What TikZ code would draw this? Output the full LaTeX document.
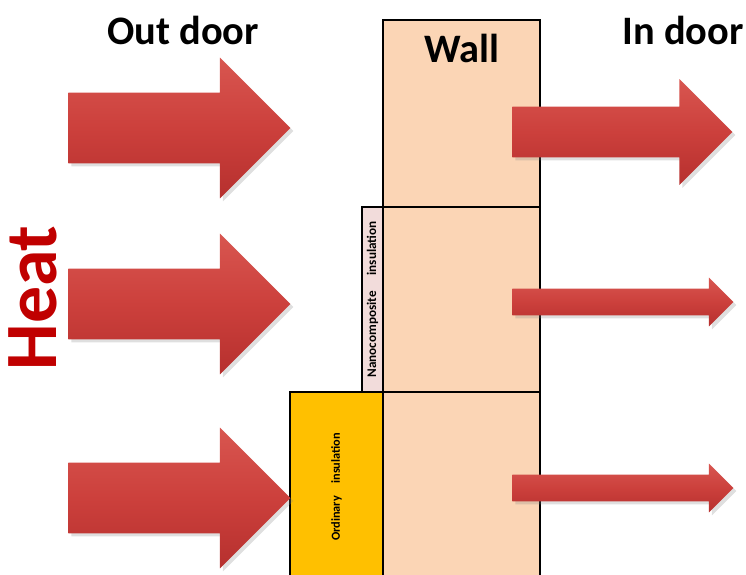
\documentclass[tikz,border=0pt]{standalone}
\usepackage{fontspec}
\setmainfont{Carlito}
\usetikzlibrary{shapes.arrows,shadows}
\definecolor{hwpeach}{RGB}{251,213,181}
\definecolor{hwpink}{RGB}{242,220,219}
\definecolor{hwgold}{RGB}{255,192,0}
\definecolor{hwred}{RGB}{192,0,0}
\definecolor{hwarrowtop}{RGB}{216,86,80}
\definecolor{hwarrowmid}{RGB}{204,64,60}
\definecolor{hwarrowbot}{RGB}{182,48,46}
\tikzset{
  hwlayer/.style={draw=black, line width=1pt, inner sep=0pt, outer sep=0pt},
  hwwall/.style={hwlayer, fill=hwpeach, minimum width=31.4mm},
  hwnano/.style={hwlayer, fill=hwpink, rotate=90, font=\bfseries\fontsize{7.5}{8}\selectfont},
  hwins/.style={hwlayer, fill=hwgold, rotate=90, font=\bfseries\fontsize{7}{8}\selectfont},
  hwtitle/.style={font=\bfseries\fontsize{23}{26}\selectfont, inner sep=0pt},
  hwarrow/.style={single arrow, anchor=tail, inner xsep=0pt, minimum width=0pt,
    draw=none, top color=hwarrowtop, bottom color=hwarrowbot, middle color=hwarrowmid,
    drop shadow={opacity=0.25, shadow xshift=0.6mm, shadow yshift=-0.6mm}},
  hwbig/.style={hwarrow, inner ysep=7mm, single arrow head extend=7mm, minimum height=44.4mm},
  hwmid/.style={hwarrow, inner ysep=5mm, single arrow head extend=5.5mm, minimum height=44mm},
  hwthin/.style={hwarrow, inner ysep=2.6mm, single arrow head extend=2.2mm, minimum height=44.2mm}
}
\begin{document}
\begin{tikzpicture}[x=0.02cm, y=-0.02cm]
  \useasboundingbox (0,0) rectangle (746,574);
  \clip (0,0) rectangle (746,574);
  \node[hwwall, minimum height=37.4mm] (wall1) at (461.5,113.5) {};
  \node[hwwall, minimum height=37mm] (wall2) at (461.5,299.5) {};
  \node[hwwall, minimum height=38mm] (wall3) at (461.5,487) {};
  \node[hwnano, minimum width=37mm, minimum height=4.2mm] (nano) at (372.5,299.5) {Nanocomposite\hspace{1.2em}insulation};
  \node[hwins, minimum width=38mm, minimum height=18.6mm] (ordin) at (336.5,487) {Ordinary\hspace{1em}insulation};
  \node[hwtitle] (walltxt) at (462,48) {Wall};
  \node[hwtitle] (outdoor) at (183,30) {Out door};
  \node[hwtitle] (indoor) at (683,30) {In door};
  \node[rotate=90, text=hwred, font=\bfseries\fontsize{42}{44}\selectfont] (heat) at (33,298) {Heat};
  \node[hwbig] (out1) at (68,128) {};
  \node[hwbig] (out2) at (68,304) {};
  \node[hwbig] (out3) at (68,498) {};
  \node[hwmid] (in1) at (512,132) {};
  \node[hwthin] (in2) at (512,302) {};
  \node[hwthin] (in3) at (512,488) {};
\end{tikzpicture}
\end{document}
